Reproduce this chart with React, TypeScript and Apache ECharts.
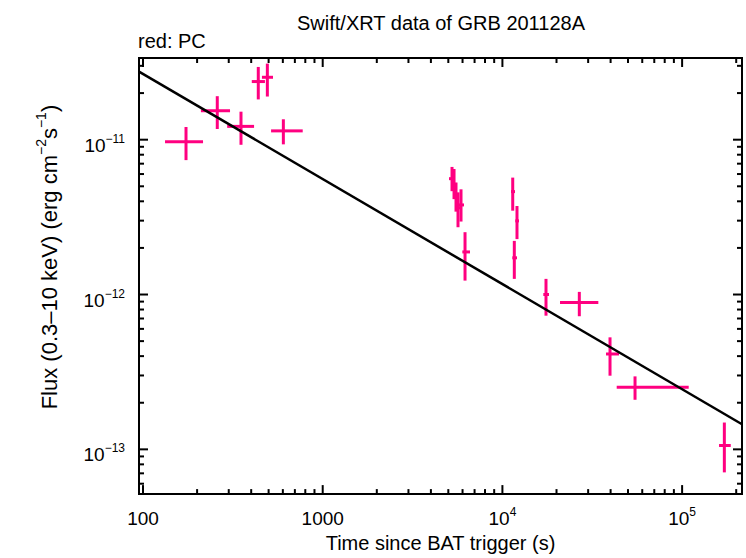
import React, { useEffect, useRef } from "react";
import * as echarts from "echarts";

const TITLE = "Swift/XRT data of GRB 201128A";
const MODE_LABEL = "red: PC";
const X_TITLE = "Time since BAT trigger (s)";

// PC-mode light curve points
const pcTime = [173.5, 259, 351, 438, 492, 604, 5243, 5380, 5518, 5661, 5883, 6194, 11413, 12055, 11647, 17480, 26790, 39700, 54700, 171800];
const pcTimeLo = [132.6, 210, 294, 403, 459, 516, 5044, 5178, 5313, 5449, 5661, 5983, 11163, 11796, 11353, 16890, 20920, 37720, 43250, 160500];
const pcTimeHi = [215.8, 305, 415, 477, 529, 774, 5449, 5590, 5733, 5880, 6112, 6601, 11750, 12370, 12055, 18170, 34180, 44560, 108800, 186500];
const pcFlux = [9.71e-12, 1.538e-11, 1.219e-11, 2.374e-11, 2.53e-11, 1.14e-11, 5.6e-12, 5.14e-12, 4.32e-12, 3.63e-12, 3.79e-12, 1.884e-12, 4.62e-12, 2.99e-12, 1.726e-12, 1.0e-12, 8.867e-13, 4.13e-13, 2.52e-13, 1.059e-13];
const pcFluxLo = [7.38e-12, 1.172e-11, 9.27e-12, 1.82e-11, 1.9e-11, 9.33e-12, 4.65e-12, 4.13e-12, 3.43e-12, 2.72e-12, 2.96e-12, 1.23e-12, 3.48e-12, 2.28e-12, 1.262e-12, 7.3e-13, 7.24e-13, 2.99e-13, 2.09e-13, 7.1e-14];
const pcFluxHi = [1.208e-11, 1.91e-11, 1.517e-11, 2.95e-11, 3.1e-11, 1.355e-11, 6.67e-12, 6.47e-12, 5.29e-12, 4.57e-12, 4.78e-12, 2.527e-12, 5.69e-12, 3.73e-12, 2.22e-12, 1.262e-12, 1.04e-12, 5.29e-13, 2.96e-13, 1.49e-13];

// Power-law model (straight in log-log): end points
const modelTime = [95.0, 215400];
const modelFlux = [2.752e-11, 1.453e-13];

// Axis ranges
const X_MIN = 95.0;
const X_MAX = 215400;
const Y_MIN = 5.14e-14;
const Y_MAX = 3.37e-11;

// Tick marks
const xMajorTicks = [100, 1000, 10000, 100000];
const xMinorTicks = [200, 300, 400, 500, 600, 700, 800, 900, 2000, 3000, 4000, 5000, 6000, 7000, 8000, 9000, 20000, 30000, 40000, 50000, 60000, 70000, 80000, 90000, 200000];
const yMajorTicks = [1e-13, 1e-12, 1e-11];
const yMinorTicks = [6e-14, 7e-14, 8e-14, 9e-14, 2e-13, 3e-13, 4e-13, 5e-13, 6e-13, 7e-13, 8e-13, 9e-13, 2e-12, 3e-12, 4e-12, 5e-12, 6e-12, 7e-12, 8e-12, 9e-12, 2e-11, 3e-11];

const PINK = "#ff0080";
const FONT = "Liberation Sans";

export default function App() {
  const ref = useRef<HTMLDivElement>(null);
  useEffect(() => {
    if (!ref.current) return;
    const chart = echarts.init(ref.current, undefined, { renderer: "svg" });

    const errData = pcTime.map((t, i) => [t, pcFlux[i], pcTimeLo[i], pcTimeHi[i], pcFluxLo[i], pcFluxHi[i]]);
    const tickData: number[][] = [];
    xMajorTicks.forEach((v) => tickData.push([v, 1e-12, 1, 0]));
    xMinorTicks.forEach((v) => tickData.push([v, 1e-12, 0, 0]));
    yMajorTicks.forEach((v) => tickData.push([1000, v, 1, 1]));
    yMinorTicks.forEach((v) => tickData.push([1000, v, 0, 1]));

    const rich = {
      b: { fontSize: 19, fontFamily: FONT, color: "#000", lineHeight: 22, verticalAlign: "bottom" },
      s: { fontSize: 12, fontFamily: FONT, color: "#000", lineHeight: 13, verticalAlign: "top" },
    };

    chart.setOption({
      animation: false,
      backgroundColor: "#fff",
      title: {
        text: TITLE,
        left: 436,
        textAlign: "center",
        top: 8,
        textStyle: { fontFamily: FONT, fontSize: 20, fontWeight: "normal", color: "#000" },
      },
      graphic: [
        {
          type: "text",
          left: 138,
          top: 31,
          style: { text: MODE_LABEL, fontFamily: FONT, fontSize: 20, fill: "#000" },
        },
      ],
      grid: {
        left: 139,
        right: 4,
        top: 58,
        bottom: 52,
        show: true,
        borderColor: "#000",
        borderWidth: 2,
        backgroundColor: "transparent",
      },
      xAxis: {
        type: "log",
        logBase: 10,
        min: X_MIN,
        max: X_MAX,
        name: X_TITLE,
        nameLocation: "middle",
        nameGap: 32,
        nameTextStyle: { fontFamily: FONT, fontSize: 20, color: "#000" },
        axisLine: { show: false },
        axisTick: { show: false },
        splitLine: { show: false },
        axisLabel: {
          showMinLabel: false,
          showMaxLabel: false,
          margin: 12,
          fontFamily: FONT,
          fontSize: 19,
          color: "#000",
          rich,
          formatter: (v: number) => {
            const l = Math.log10(v);
            const e = Math.round(l);
            if (Math.abs(l - e) > 0.01) return "";
            if (e === 2) return "{b|100}";
            if (e === 3) return "{b|1000}";
            return `{b|10}{s|${e}}`;
          },
        },
      },
      yAxis: {
        type: "log",
        logBase: 10,
        min: Y_MIN,
        max: Y_MAX,
        name: "{a|Flux (0.3–10 keV) (erg cm}{s|−2}{a|s}{s|−1}{a|)}",
        nameLocation: "middle",
        nameGap: 79,
        nameTextStyle: {
          padding: [0, 0, 0, 38],
          rich: {
            a: { fontFamily: FONT, fontSize: 22, color: "#000", lineHeight: 26, verticalAlign: "bottom" },
            s: { fontFamily: FONT, fontSize: 14, color: "#000", lineHeight: 15, verticalAlign: "top" },
          },
        },
        axisLine: { show: false },
        axisTick: { show: false },
        splitLine: { show: false },
        axisLabel: {
          showMinLabel: false,
          showMaxLabel: false,
          margin: 14,
          padding: [8, 0, 0, 0],
          rich,
          formatter: (v: number) => {
            const l = Math.log10(v);
            const e = Math.round(l);
            if (Math.abs(l - e) > 0.01) return "";
            return `{b|10}{s|−${-e}}`;
          },
        },
      },
      series: [
        {
          type: "custom",
          name: "ticks",
          data: tickData,
          encode: { x: 0, y: 1 },
          silent: true,
          z: 5,
          renderItem: (params: any, api: any) => {
            const cs = params.coordSys;
            const major = api.value(2) === 1;
            const isY = api.value(3) === 1;
            const len = major ? 9 : 5;
            const st = { stroke: "#000", lineWidth: 2 };
            if (isY) {
              const y = api.coord([1000, api.value(1)])[1];
              return {
                type: "group",
                children: [
                  { type: "line", shape: { x1: cs.x, y1: y, x2: cs.x + len, y2: y }, style: st },
                  { type: "line", shape: { x1: cs.x + cs.width - len, y1: y, x2: cs.x + cs.width, y2: y }, style: st },
                ],
              };
            }
            const x = api.coord([api.value(0), 1e-12])[0];
            return {
              type: "group",
              children: [
                { type: "line", shape: { x1: x, y1: cs.y + cs.height, x2: x, y2: cs.y + cs.height - len }, style: st },
                { type: "line", shape: { x1: x, y1: cs.y, x2: x, y2: cs.y + len }, style: st },
              ],
            };
          },
        },
        {
          type: "custom",
          name: "PC",
          data: errData,
          encode: { x: 0, y: 1 },
          z: 2,
          renderItem: (params: any, api: any) => {
            const t = api.value(0);
            const f = api.value(1);
            const l = api.coord([api.value(2), f]);
            const r = api.coord([api.value(3), f]);
            const lo = api.coord([t, api.value(4)]);
            const hi = api.coord([t, api.value(5)]);
            const c = api.coord([t, f]);
            const st = { stroke: PINK, lineWidth: 3 };
            return {
              type: "group",
              children: [
                { type: "line", shape: { x1: l[0], y1: c[1], x2: r[0], y2: c[1] }, style: st },
                { type: "line", shape: { x1: c[0], y1: hi[1], x2: c[0], y2: lo[1] }, style: st },
              ],
            };
          },
        },
        {
          type: "line",
          name: "model",
          data: modelTime.map((t, i) => [t, modelFlux[i]]),
          showSymbol: false,
          symbol: "none",
          z: 3,
          lineStyle: { color: "#000", width: 2.5 },
        },
      ],
    });
    return () => chart.dispose();
  }, []);
  return <div ref={ref} style={{ position: "absolute", left: 0, top: 0, width: 746, height: 558 }} />;
}
